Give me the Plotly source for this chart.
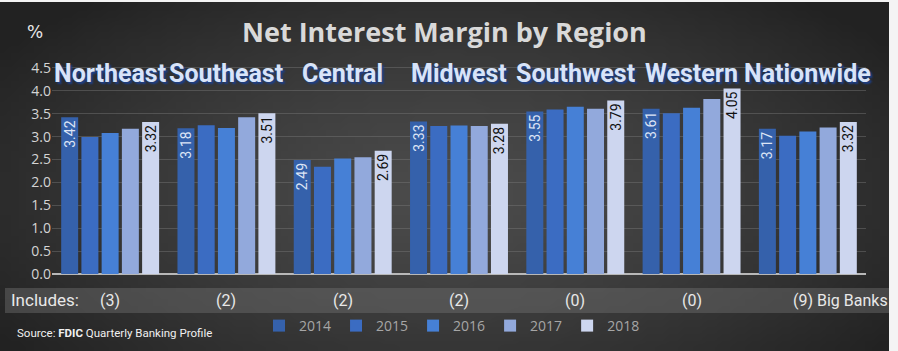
import plotly.graph_objects as go
import zlib, struct, base64, math

regions = ["Northeast", "Southeast", "Central", "Midwest", "Southwest", "Western", "Nationwide"]
years = ["2014", "2015", "2016", "2017", "2018"]
v2014 = [3.42, 3.18, 2.49, 3.33, 3.55, 3.61, 3.17]
v2015 = [2.99, 3.25, 2.34, 3.23, 3.59, 3.51, 3.02]
v2016 = [3.08, 3.19, 2.52, 3.24, 3.65, 3.63, 3.11]
v2017 = [3.17, 3.42, 2.55, 3.23, 3.61, 3.82, 3.20]
v2018 = [3.32, 3.51, 2.69, 3.28, 3.79, 4.05, 3.32]
includes = ["(3)", "(2)", "(2)", "(2)", "(0)", "(0)", "(9) Big Banks"]
series = [v2014, v2015, v2016, v2017, v2018]
colors = ["#3561ab", "#3b6cc2", "#4680d6", "#92a9dc", "#cdd6ef"]
label_colors = ["#dde5f6", None, None, None, "#111111"]

W, H = 898, 351
L, R, T, B = 52, 32, 65, 77
PW, PH = W - L - R, H - T - B

def px_x(px):
    return (px - L) / PW

def px_y(py):
    return (H - B - py) / PH

# radial gradient background as a small PNG
def make_png(w, h):
    raw = b""
    for j in range(h):
        row = bytearray([0])
        for i in range(w):
            dx = (i / (w - 1) - 0.5) / 0.62
            dy = (j / (h - 1) - 0.55) / 0.75
            d = min(1.0, math.sqrt(dx * dx + dy * dy))
            c = int(76 - (76 - 34) * d ** 1.3)
            row += bytes([c, c, c])
        raw += bytes(row)
    def chunk(t, data):
        return struct.pack(">I", len(data)) + t + data + struct.pack(">I", zlib.crc32(t + data) & 0xffffffff)
    png = b"\x89PNG\r\n\x1a\n" + chunk(b"IHDR", struct.pack(">IIBBBBB", w, h, 8, 2, 0, 0, 0)) \
        + chunk(b"IDAT", zlib.compress(raw)) + chunk(b"IEND", b"")
    return "data:image/png;base64," + base64.b64encode(png).decode()

bg = make_png(120, 50)

cond = "Roboto, sans-serif"

fig = go.Figure()
for k, (yr, vals) in enumerate(zip(years, series)):
    kw = {}
    if label_colors[k]:
        kw = dict(text=[f"{v:.2f}" for v in vals], textposition="inside", textangle=-90,
                  insidetextanchor="end", texttemplate="%{text}",
                  textfont=dict(family=cond, size=14, color=label_colors[k]))
    fig.add_trace(go.Bar(x=regions, y=vals, name=yr, marker=dict(color=colors[k], line=dict(width=0)),
                         hoverinfo="skip", **kw))

annotations = []
for r in regions:
    annotations.append(dict(x=r, y=px_y(73), xref="x", yref="paper", text=f"<b>{r}</b>", showarrow=False,
                            font=dict(family=cond, size=25, color="#d8e4f9", shadow="2px 2px 2px #1c3f8a"),
                            yanchor="middle"))
for r, inc in zip(regions, includes):
    if inc.startswith("(9)"):
        annotations.append(dict(x=r, y=px_y(300), xref="x", yref="paper", text=inc, showarrow=False,
                                xanchor="left", xshift=-17, yanchor="middle",
                                font=dict(family=cond, size=16, color="#e8e8e8")))
    else:
        annotations.append(dict(x=r, y=px_y(300), xref="x", yref="paper", text=inc, showarrow=False,
                                yanchor="middle", font=dict(family=cond, size=16, color="#e8e8e8")))
annotations += [
    dict(x=px_x(9), y=px_y(300), xref="paper", yref="paper", text="Includes:", showarrow=False, xanchor="left",
         yanchor="middle", font=dict(family=cond, size=17, color="#e8e8e8")),
    dict(x=px_x(15), y=px_y(333), xref="paper", yref="paper", text="Source: <b>FDIC</b> Quarterly Banking Profile",
         showarrow=False, xanchor="left", yanchor="middle", font=dict(family=cond, size=11.5, color="#f0f0f0")),
    dict(x=px_x(444), y=px_y(32), xref="paper", yref="paper", text="<b>Net Interest Margin by Region</b>",
         showarrow=False, yanchor="middle", font=dict(family="Open Sans, sans-serif", size=27, color="#d9d9d9")),
    dict(x=px_x(25), y=px_y(32), xref="paper", yref="paper", text="%", showarrow=False, yanchor="middle",
         font=dict(family="DejaVu Sans, sans-serif", size=17, color="#e8e8e8")),
]

shapes = [
    dict(type="rect", xref="paper", yref="paper", x0=px_x(5), x1=px_x(889), y0=px_y(313), y1=px_y(288),
         fillcolor="rgba(110,110,110,0.45)", line=dict(width=0), layer="below"),
    dict(type="rect", xref="paper", yref="paper", x0=px_x(889), x1=px_x(899), y0=px_y(352), y1=px_y(-1),
         fillcolor="#f4f4f4", line=dict(width=0), layer="above"),
    dict(type="rect", xref="paper", yref="paper", x0=px_x(-1), x1=px_x(899), y0=px_y(2), y1=px_y(-1),
         fillcolor="#f4f4f4", line=dict(width=0), layer="above"),
]

fig.update_layout(
    template="none",
    width=W, height=H, margin=dict(l=L, r=R, t=T, b=B, autoexpand=False),
    paper_bgcolor="#2e2e2e", plot_bgcolor="rgba(0,0,0,0)",
    images=[dict(source=bg, xref="paper", yref="paper", x=px_x(0), y=px_y(0), sizex=W / PW, sizey=H / PH,
                 xanchor="left", yanchor="top", sizing="stretch", layer="below")],
    barmode="group", bargap=0.13, bargroupgap=0.16,
    uniformtext=dict(minsize=14, mode="show"),
    showlegend=True,
    legend=dict(orientation="h", x=px_x(452), y=px_y(326), xanchor="center", yanchor="middle",
                font=dict(family="Open Sans, sans-serif", size=14, color="#a6a6a6"),
                bgcolor="rgba(0,0,0,0)", itemwidth=30, traceorder="normal", itemclick=False,
                tracegroupgap=0),
    annotations=annotations, shapes=shapes,
    xaxis=dict(range=[-0.5, 6.5], autorange=False, automargin=False, showticklabels=False, showgrid=False,
               zeroline=False, showline=False, ticks=""),
    yaxis=dict(range=[0, PH / 45.8], autorange=False, automargin=False,
               tickvals=[0, 0.5, 1, 1.5, 2, 2.5, 3, 3.5, 4, 4.5],
               ticktext=["0.0", "0.5", "1.0", "1.5", "2.0", "2.5", "3.0", "3.5", "4.0", "4.5"],
               tickfont=dict(family="Open Sans, sans-serif", size=14, color="#d4d4d4"),
               showgrid=True, gridcolor="rgba(120,120,120,0.45)", gridwidth=1, zeroline=True,
               zerolinecolor="#b8b8b8", zerolinewidth=2, ticks="", showline=False),
)

fig.write_html("out.html")
